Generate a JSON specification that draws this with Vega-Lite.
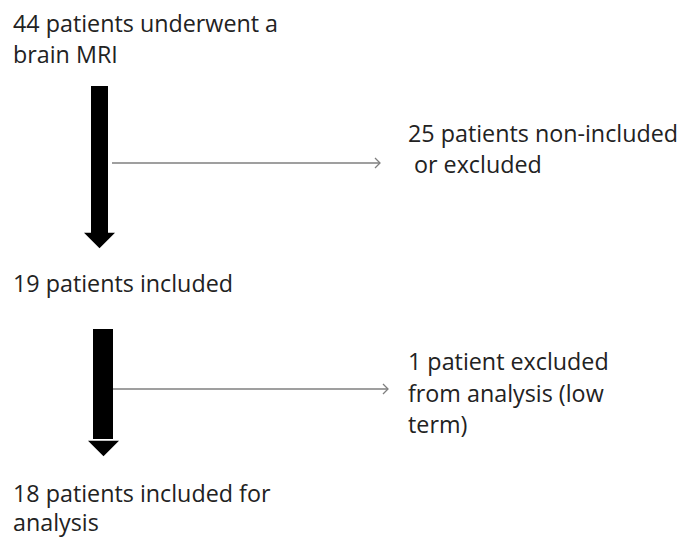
{
  "$schema": "https://vega.github.io/schema/vega-lite/v6.json",
  "width": 681,
  "height": 538,
  "autosize": {"type": "none"},
  "padding": 0,
  "background": "white",
  "config": {"view": {"stroke": null}},
  "datasets": {
    "texts": [
      {"x": 13, "y": 32, "label": "44 patients underwent a"},
      {"x": 13, "y": 63, "label": "brain MRI"},
      {"x": 408, "y": 142, "label": "25 patients non-included"},
      {"x": 414, "y": 173, "label": "or excluded"},
      {"x": 13, "y": 292, "label": "19 patients included"},
      {"x": 408, "y": 370, "label": "1 patient excluded"},
      {"x": 408, "y": 402, "label": "from analysis (low"},
      {"x": 408, "y": 433, "label": "term)"},
      {"x": 13, "y": 502, "label": "18 patients included for"},
      {"x": 13, "y": 531, "label": "analysis"}
    ],
    "shafts": [
      {"x": 91, "x2": 108, "y": 86, "y2": 233},
      {"x": 93, "x2": 113, "y": 329, "y2": 439}
    ],
    "heads": [
      {"x": 99.5, "y": 240.5},
      {"x": 103.5, "y": 448.5}
    ],
    "lines": [
      {"x": 112, "x2": 380, "y": 163},
      {"x": 113, "x2": 388, "y": 389}
    ]
  },
  "layer": [
    {
      "data": {"name": "shafts"},
      "mark": {"type": "rect", "color": "black"},
      "encoding": {
        "x": {"field": "x", "type": "quantitative", "scale": {"domain": [0, 681]}, "axis": null},
        "x2": {"field": "x2"},
        "y": {"field": "y", "type": "quantitative", "scale": {"domain": [0, 538], "reverse": true}, "axis": null},
        "y2": {"field": "y2"}
      }
    },
    {
      "data": {"name": "heads"},
      "mark": {"type": "point", "shape": "M-1,-0.5L1,-0.5L0,0.5Z", "filled": true, "color": "black", "opacity": 1, "size": 961, "strokeWidth": 0},
      "encoding": {
        "x": {"field": "x", "type": "quantitative", "scale": {"domain": [0, 681]}, "axis": null},
        "y": {"field": "y", "type": "quantitative", "scale": {"domain": [0, 538], "reverse": true}, "axis": null}
      }
    },
    {
      "data": {"name": "lines"},
      "mark": {"type": "rule", "color": "#7f7f7f", "strokeWidth": 1.5},
      "encoding": {
        "x": {"field": "x", "type": "quantitative", "scale": {"domain": [0, 681]}, "axis": null},
        "x2": {"field": "x2"},
        "y": {"field": "y", "type": "quantitative", "scale": {"domain": [0, 538], "reverse": true}, "axis": null}
      }
    },
    {
      "data": {"name": "lines"},
      "mark": {"type": "point", "shape": "M-1,-1L0,0L-1,1", "filled": false, "color": "#7f7f7f", "opacity": 1, "size": 100, "strokeWidth": 1.3},
      "encoding": {
        "x": {"field": "x2", "type": "quantitative", "scale": {"domain": [0, 681]}, "axis": null},
        "y": {"field": "y", "type": "quantitative", "scale": {"domain": [0, 538], "reverse": true}, "axis": null}
      }
    },
    {
      "data": {"name": "texts"},
      "mark": {"type": "text", "align": "left", "baseline": "alphabetic", "font": "Open Sans", "fontSize": 23.3, "color": "#222222"},
      "encoding": {
        "x": {"field": "x", "type": "quantitative", "scale": {"domain": [0, 681]}, "axis": null},
        "y": {"field": "y", "type": "quantitative", "scale": {"domain": [0, 538], "reverse": true}, "axis": null},
        "text": {"field": "label"}
      }
    }
  ]
}
